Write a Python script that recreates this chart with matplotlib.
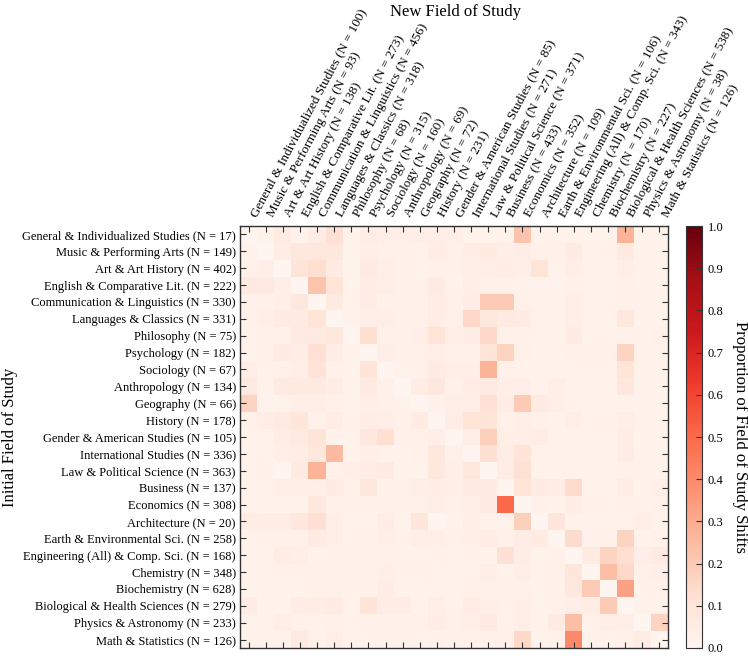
import numpy as np
import matplotlib
matplotlib.use('Agg')
import matplotlib.pyplot as plt

# field names (same order for rows and columns)
fields = [
    'General & Individualized Studies', 'Music & Performing Arts',
    'Art & Art History', 'English & Comparative Lit.',
    'Communication & Linguistics', 'Languages & Classics', 'Philosophy',
    'Psychology', 'Sociology', 'Anthropology', 'Geography', 'History',
    'Gender & American Studies', 'International Studies',
    'Law & Political Science', 'Business', 'Economics', 'Architecture',
    'Earth & Environmental Sci.', 'Engineering (All) & Comp. Sci.',
    'Chemistry', 'Biochemistry', 'Biological & Health Sciences',
    'Physics & Astronomy', 'Math & Statistics',
]

# sample sizes
n_initial = [17, 149, 402, 222, 330, 331, 75, 182, 67, 134, 66, 178, 105,
             336, 363, 137, 308, 20, 258, 168, 348, 628, 279, 233, 126]
n_new = [100, 93, 138, 273, 456, 318, 68, 315, 160, 69, 72, 231, 85,
         271, 371, 433, 352, 109, 106, 343, 170, 227, 538, 38, 126]

# proportion of shifts: rows = initial field, columns = new field
shifts = np.array([
    [0.00, 0.02, 0.06, 0.02, 0.05, 0.12, 0.02, 0.05, 0.04, 0.04, 0.04, 0.04, 0.04, 0.02, 0.02, 0.02, 0.22, 0.02, 0.02, 0.02, 0.02, 0.02, 0.27, 0.02, 0.02],
    [0.02, 0.00, 0.05, 0.08, 0.08, 0.08, 0.02, 0.04, 0.03, 0.03, 0.02, 0.05, 0.03, 0.05, 0.06, 0.04, 0.05, 0.03, 0.03, 0.06, 0.02, 0.03, 0.07, 0.02, 0.02],
    [0.03, 0.04, 0.00, 0.10, 0.13, 0.06, 0.02, 0.06, 0.04, 0.03, 0.02, 0.03, 0.03, 0.04, 0.04, 0.05, 0.04, 0.10, 0.02, 0.04, 0.02, 0.02, 0.04, 0.02, 0.02],
    [0.07, 0.07, 0.04, 0.00, 0.22, 0.10, 0.02, 0.05, 0.04, 0.03, 0.03, 0.06, 0.02, 0.04, 0.03, 0.03, 0.02, 0.02, 0.02, 0.03, 0.02, 0.02, 0.03, 0.02, 0.02],
    [0.03, 0.03, 0.04, 0.08, 0.00, 0.07, 0.02, 0.05, 0.03, 0.03, 0.03, 0.05, 0.03, 0.05, 0.20, 0.20, 0.03, 0.02, 0.02, 0.04, 0.02, 0.02, 0.03, 0.02, 0.02],
    [0.03, 0.04, 0.06, 0.06, 0.10, 0.00, 0.02, 0.04, 0.04, 0.03, 0.03, 0.05, 0.03, 0.15, 0.08, 0.07, 0.06, 0.02, 0.02, 0.04, 0.02, 0.02, 0.08, 0.02, 0.02],
    [0.02, 0.03, 0.03, 0.07, 0.07, 0.08, 0.00, 0.13, 0.03, 0.02, 0.04, 0.10, 0.04, 0.05, 0.15, 0.03, 0.03, 0.02, 0.02, 0.06, 0.02, 0.02, 0.03, 0.02, 0.03],
    [0.02, 0.03, 0.06, 0.05, 0.12, 0.05, 0.02, 0.00, 0.04, 0.03, 0.03, 0.04, 0.03, 0.03, 0.10, 0.17, 0.03, 0.02, 0.02, 0.03, 0.03, 0.03, 0.17, 0.02, 0.02],
    [0.04, 0.02, 0.03, 0.04, 0.11, 0.03, 0.02, 0.10, 0.00, 0.02, 0.03, 0.06, 0.04, 0.04, 0.27, 0.03, 0.02, 0.02, 0.02, 0.02, 0.02, 0.02, 0.10, 0.02, 0.02],
    [0.07, 0.02, 0.07, 0.07, 0.07, 0.05, 0.02, 0.07, 0.03, 0.00, 0.05, 0.08, 0.03, 0.05, 0.07, 0.04, 0.04, 0.02, 0.04, 0.02, 0.02, 0.02, 0.08, 0.02, 0.02],
    [0.17, 0.02, 0.02, 0.04, 0.04, 0.03, 0.02, 0.04, 0.03, 0.02, 0.00, 0.03, 0.04, 0.04, 0.12, 0.05, 0.20, 0.06, 0.04, 0.02, 0.02, 0.02, 0.02, 0.02, 0.02],
    [0.03, 0.05, 0.07, 0.09, 0.03, 0.05, 0.03, 0.05, 0.04, 0.03, 0.06, 0.00, 0.05, 0.10, 0.10, 0.03, 0.04, 0.03, 0.02, 0.04, 0.02, 0.03, 0.04, 0.02, 0.02],
    [0.02, 0.02, 0.05, 0.07, 0.10, 0.02, 0.02, 0.08, 0.13, 0.03, 0.03, 0.04, 0.00, 0.04, 0.18, 0.04, 0.04, 0.05, 0.02, 0.02, 0.02, 0.02, 0.05, 0.02, 0.02],
    [0.02, 0.02, 0.04, 0.05, 0.08, 0.25, 0.02, 0.04, 0.02, 0.02, 0.03, 0.08, 0.03, 0.00, 0.12, 0.05, 0.10, 0.02, 0.02, 0.02, 0.02, 0.02, 0.05, 0.02, 0.02],
    [0.02, 0.03, 0.01, 0.06, 0.27, 0.03, 0.04, 0.05, 0.06, 0.02, 0.02, 0.08, 0.04, 0.08, 0.00, 0.05, 0.12, 0.02, 0.02, 0.02, 0.02, 0.02, 0.03, 0.02, 0.02],
    [0.02, 0.02, 0.04, 0.04, 0.04, 0.06, 0.03, 0.08, 0.03, 0.03, 0.04, 0.05, 0.04, 0.06, 0.06, 0.00, 0.10, 0.06, 0.05, 0.14, 0.02, 0.02, 0.05, 0.02, 0.04],
    [0.02, 0.02, 0.02, 0.02, 0.08, 0.03, 0.02, 0.03, 0.03, 0.03, 0.03, 0.04, 0.03, 0.04, 0.07, 0.50, 0.00, 0.03, 0.02, 0.05, 0.03, 0.02, 0.03, 0.02, 0.03],
    [0.05, 0.05, 0.05, 0.08, 0.12, 0.04, 0.02, 0.02, 0.05, 0.02, 0.09, 0.01, 0.02, 0.04, 0.02, 0.02, 0.18, 0.00, 0.09, 0.02, 0.02, 0.02, 0.02, 0.04, 0.02],
    [0.02, 0.03, 0.03, 0.03, 0.06, 0.04, 0.02, 0.03, 0.04, 0.03, 0.04, 0.04, 0.03, 0.04, 0.05, 0.03, 0.05, 0.06, 0.00, 0.14, 0.03, 0.03, 0.17, 0.02, 0.03],
    [0.02, 0.02, 0.05, 0.04, 0.02, 0.03, 0.03, 0.03, 0.03, 0.02, 0.02, 0.03, 0.02, 0.03, 0.02, 0.12, 0.05, 0.02, 0.03, 0.00, 0.06, 0.17, 0.13, 0.04, 0.07],
    [0.02, 0.02, 0.03, 0.03, 0.03, 0.03, 0.02, 0.03, 0.04, 0.03, 0.03, 0.02, 0.02, 0.02, 0.04, 0.02, 0.04, 0.02, 0.03, 0.09, 0.00, 0.24, 0.15, 0.03, 0.04],
    [0.02, 0.02, 0.02, 0.02, 0.03, 0.03, 0.02, 0.03, 0.05, 0.02, 0.02, 0.02, 0.02, 0.03, 0.03, 0.03, 0.03, 0.02, 0.03, 0.08, 0.20, 0.00, 0.33, 0.02, 0.03],
    [0.05, 0.02, 0.02, 0.05, 0.05, 0.06, 0.02, 0.10, 0.05, 0.05, 0.02, 0.04, 0.02, 0.05, 0.04, 0.03, 0.04, 0.02, 0.03, 0.04, 0.05, 0.20, 0.00, 0.02, 0.02],
    [0.02, 0.02, 0.04, 0.03, 0.02, 0.03, 0.02, 0.03, 0.03, 0.03, 0.03, 0.05, 0.03, 0.04, 0.07, 0.02, 0.04, 0.02, 0.06, 0.24, 0.02, 0.04, 0.04, 0.00, 0.17],
    [0.02, 0.02, 0.02, 0.07, 0.02, 0.04, 0.02, 0.02, 0.02, 0.02, 0.02, 0.03, 0.02, 0.03, 0.03, 0.03, 0.15, 0.02, 0.03, 0.40, 0.02, 0.02, 0.03, 0.05, 0.00],
])

row_labels = ['%s (N = %d)' % (f, n) for f, n in zip(fields, n_initial)]
col_labels = ['%s (N = %d)' % (f, n) for f, n in zip(fields, n_new)]

plt.rcParams['font.family'] = ['Liberation Serif', 'DejaVu Serif']
plt.rcParams['font.size'] = 9
frame = '#333333'

fig = plt.figure(figsize=(7.48, 6.59), dpi=100)
ax = fig.add_axes([240 / 748, 11 / 659, 428 / 748, 422 / 659])
cax = fig.add_axes([686 / 748, 11 / 659, 16 / 748, 422 / 659])

mesh = ax.pcolormesh(shifts, cmap='Reds', vmin=0, vmax=1)
ax.set_xlim(0, len(fields))
ax.set_ylim(len(fields), 0)

ax.set_xticks(np.arange(len(fields)) + 0.5)
ax.set_yticks(np.arange(len(fields)) + 0.5)
ax.xaxis.tick_top()
ax.set_xticklabels(col_labels, rotation=62, ha='left', va='bottom',
                   fontsize=9.5)
ax.set_yticklabels(row_labels)
ax.tick_params(direction='in', length=4, width=0.8, color=frame,
               top=True, bottom=True, left=True, right=True, pad=3)
ax.tick_params(axis='x', pad=5)
for s in ax.spines.values():
    s.set_color(frame)
    s.set_linewidth(1.0)

cb = fig.colorbar(mesh, cax=cax, ticks=np.arange(0, 1.01, 0.1))
cb.ax.tick_params(direction='in', length=4, width=0.8, color=frame, pad=4)
cb.outline.set_edgecolor(frame)
cb.set_label('Proportion of Field of Study Shifts', rotation=270,
             labelpad=18, fontsize=12)

fig.text(455 / 748, 1 - 12 / 659, 'New Field of Study', ha='center',
         va='center', fontsize=12)
fig.text(10 / 748, 1 - 437 / 659, 'Initial Field of Study', ha='center',
         va='center', rotation=90, fontsize=12)

fig.savefig('out.png', dpi=100)
